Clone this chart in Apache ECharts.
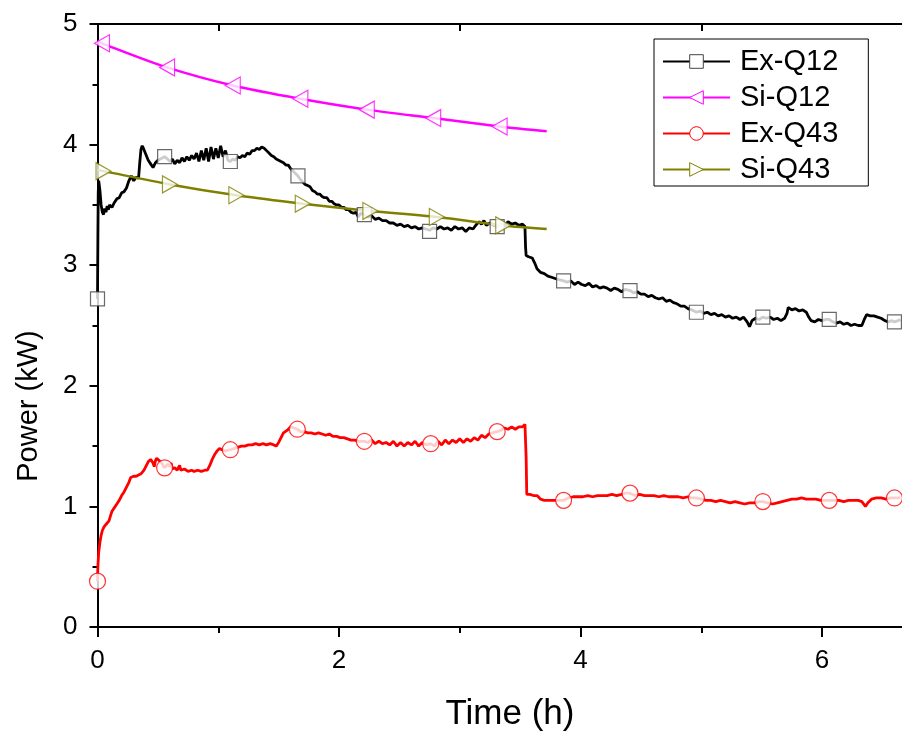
<!DOCTYPE html>
<html>
<head>
<meta charset="utf-8">
<script src="https://cdn.jsdelivr.net/npm/echarts@6/dist/echarts.min.js"></script>
<style>html,body{margin:0;padding:0;background:#fff;overflow:hidden}#c{width:902px;height:734px}</style>
</head>
<body>
<div id="c"></div>
<script>
// ---- data (time h, power kW) ----
const seriesNames = ['Ex-Q12', 'Si-Q12', 'Ex-Q43', 'Si-Q43'];
const xTickLabels = [0, 2, 4, 6];
const xMinorTicks = [1, 3, 5];
const yTickLabels = [0, 1, 2, 3, 4, 5];

const exQ12 = [[0,2.72],[0.003,3.2],[0.006,3.6],[0.01,3.70],[0.02,3.62],[0.03,3.50],[0.04,3.44],[0.05,3.42],[0.06,3.47],[0.07,3.44],[0.08,3.49],[0.09,3.46],[0.10,3.50],[0.12,3.48],[0.14,3.52],[0.16,3.55],[0.18,3.56],[0.20,3.60],[0.22,3.61],[0.24,3.64],[0.26,3.70],[0.28,3.74],[0.30,3.70],[0.32,3.73],[0.34,3.72],[0.35,3.85],[0.36,3.96],[0.37,3.99],[0.38,3.97],[0.40,3.92],[0.42,3.87],[0.44,3.84],[0.46,3.81],[0.48,3.85],[0.50,3.87],[0.52,3.88],[0.556,3.90],[0.58,3.88],[0.60,3.86],[0.62,3.88],[0.64,3.84],[0.66,3.87],[0.68,3.85],[0.70,3.89],[0.72,3.86],[0.74,3.90],[0.76,3.87],[0.78,3.91],[0.80,3.88],[0.82,3.93],[0.84,3.86],[0.86,3.95],[0.88,3.87],[0.90,3.97],[0.92,3.86],[0.94,3.98],[0.96,3.88],[0.98,3.97],[1.00,3.89],[1.02,3.99],[1.04,3.90],[1.06,3.95],[1.08,3.87],[1.10,3.86],[1.12,3.88],[1.14,3.87],[1.16,3.90],[1.18,3.89],[1.20,3.91],[1.22,3.90],[1.24,3.93],[1.26,3.92],[1.28,3.95],[1.30,3.95],[1.32,3.97],[1.34,3.96],[1.36,3.98],[1.38,3.97],[1.40,3.95],[1.42,3.93],[1.44,3.91],[1.46,3.90],[1.48,3.88],[1.50,3.87],[1.52,3.86],[1.54,3.85],[1.56,3.83],[1.58,3.83],[1.60,3.80],[1.62,3.78],[1.64,3.76],[1.66,3.74],[1.68,3.71],[1.70,3.69],[1.72,3.67],[1.74,3.66],[1.76,3.65],[1.78,3.62],[1.80,3.61],[1.82,3.59],[1.84,3.59],[1.86,3.57],[1.88,3.56],[1.90,3.56],[1.92,3.53],[1.94,3.53],[1.96,3.51],[1.98,3.50],[2.00,3.50],[2.02,3.48],[2.04,3.48],[2.06,3.46],[2.08,3.46],[2.10,3.44],[2.12,3.43],[2.14,3.44],[2.16,3.40],[2.18,3.43],[2.21,3.42],[2.24,3.40],[2.27,3.41],[2.30,3.38],[2.33,3.39],[2.36,3.37],[2.39,3.37],[2.42,3.35],[2.45,3.35],[2.48,3.33],[2.51,3.34],[2.54,3.32],[2.57,3.33],[2.60,3.31],[2.63,3.32],[2.66,3.30],[2.69,3.31],[2.72,3.30],[2.75,3.29],[2.78,3.31],[2.81,3.30],[2.84,3.32],[2.87,3.30],[2.90,3.31],[2.93,3.29],[2.96,3.32],[2.99,3.30],[3.02,3.31],[3.05,3.28],[3.08,3.31],[3.11,3.30],[3.14,3.34],[3.16,3.36],[3.18,3.34],[3.20,3.37],[3.22,3.33],[3.25,3.35],[3.28,3.33],[3.31,3.32],[3.34,3.34],[3.37,3.33],[3.40,3.36],[3.43,3.34],[3.46,3.35],[3.49,3.33],[3.52,3.34],[3.54,3.32],[3.545,3.15],[3.55,3.08],[3.57,3.07],[3.60,3.06],[3.62,3.02],[3.64,2.97],[3.67,2.94],[3.70,2.93],[3.73,2.91],[3.76,2.90],[3.79,2.89],[3.82,2.88],[3.86,2.87],[3.89,2.86],[3.92,2.87],[3.95,2.84],[3.98,2.86],[4.01,2.84],[4.04,2.83],[4.07,2.85],[4.10,2.82],[4.13,2.83],[4.16,2.81],[4.19,2.82],[4.22,2.81],[4.25,2.79],[4.28,2.81],[4.31,2.80],[4.34,2.78],[4.37,2.80],[4.41,2.79],[4.44,2.77],[4.47,2.78],[4.50,2.76],[4.53,2.76],[4.56,2.74],[4.59,2.75],[4.62,2.73],[4.65,2.72],[4.68,2.73],[4.71,2.70],[4.74,2.71],[4.77,2.69],[4.80,2.68],[4.83,2.66],[4.86,2.66],[4.89,2.64],[4.92,2.63],[4.96,2.61],[4.99,2.62],[5.02,2.60],[5.05,2.61],[5.08,2.59],[5.11,2.60],[5.14,2.58],[5.17,2.59],[5.20,2.57],[5.23,2.58],[5.26,2.56],[5.29,2.57],[5.32,2.55],[5.35,2.57],[5.38,2.53],[5.40,2.49],[5.42,2.54],[5.45,2.56],[5.48,2.55],[5.51,2.57],[5.54,2.56],[5.57,2.57],[5.60,2.55],[5.63,2.56],[5.66,2.54],[5.69,2.56],[5.71,2.60],[5.72,2.65],[5.75,2.63],[5.78,2.64],[5.81,2.62],[5.84,2.63],[5.87,2.61],[5.89,2.57],[5.91,2.54],[5.94,2.53],[5.97,2.55],[6.00,2.54],[6.03,2.55],[6.06,2.55],[6.09,2.53],[6.12,2.52],[6.15,2.53],[6.18,2.51],[6.21,2.52],[6.24,2.50],[6.27,2.51],[6.30,2.50],[6.33,2.50],[6.35,2.55],[6.37,2.59],[6.40,2.58],[6.43,2.58],[6.46,2.57],[6.49,2.56],[6.52,2.54],[6.55,2.53],[6.58,2.54],[6.60,2.53],[6.63,2.54],[6.65,2.55]];
const exQ12Markers = [[0,2.72],[0.556,3.90],[1.10,3.86],[1.66,3.74],[2.21,3.42],[2.75,3.28],[3.31,3.32],[3.86,2.87],[4.41,2.79],[4.96,2.61],[5.51,2.57],[6.06,2.55],[6.60,2.53]];

const siQ12 = [[0,4.86],[0.037,4.84],[0.576,4.64],[1.12,4.49],[1.68,4.38],[2.23,4.29],[2.78,4.22],[3.33,4.15],[3.72,4.11]];
const siQ12Markers = [[0.037,4.84],[0.576,4.64],[1.12,4.49],[1.68,4.38],[2.23,4.29],[2.78,4.22],[3.33,4.15]];

const exQ43 = [[0,0.38],[0.003,0.50],[0.01,0.62],[0.02,0.70],[0.03,0.76],[0.04,0.80],[0.054,0.83],[0.07,0.85],[0.095,0.88],[0.11,0.93],[0.12,0.96],[0.14,0.99],[0.16,1.02],[0.18,1.05],[0.20,1.09],[0.22,1.12],[0.24,1.16],[0.26,1.20],[0.275,1.24],[0.30,1.25],[0.32,1.25],[0.34,1.26],[0.36,1.27],[0.385,1.30],[0.40,1.33],[0.42,1.37],[0.44,1.39],[0.45,1.40],[0.46,1.36],[0.47,1.33],[0.48,1.38],[0.49,1.40],[0.51,1.38],[0.53,1.36],[0.556,1.32],[0.58,1.35],[0.60,1.33],[0.61,1.36],[0.62,1.31],[0.64,1.32],[0.66,1.30],[0.68,1.34],[0.69,1.30],[0.72,1.31],[0.75,1.29],[0.78,1.30],[0.80,1.29],[0.83,1.30],[0.86,1.29],[0.89,1.30],[0.91,1.30],[0.93,1.34],[0.95,1.39],[0.97,1.43],[0.99,1.46],[1.01,1.48],[1.03,1.47],[1.06,1.46],[1.10,1.47],[1.13,1.48],[1.16,1.49],[1.19,1.50],[1.22,1.50],[1.25,1.51],[1.28,1.51],[1.31,1.52],[1.34,1.51],[1.37,1.52],[1.40,1.51],[1.43,1.52],[1.46,1.51],[1.48,1.50],[1.50,1.53],[1.52,1.57],[1.54,1.61],[1.57,1.63],[1.60,1.66],[1.655,1.64],[1.68,1.62],[1.71,1.62],[1.74,1.61],[1.77,1.61],[1.80,1.60],[1.83,1.61],[1.86,1.60],[1.89,1.59],[1.92,1.60],[1.95,1.58],[1.98,1.58],[2.01,1.57],[2.04,1.57],[2.07,1.56],[2.10,1.55],[2.13,1.55],[2.16,1.54],[2.21,1.54],[2.24,1.53],[2.27,1.55],[2.30,1.52],[2.33,1.54],[2.36,1.52],[2.39,1.53],[2.42,1.51],[2.45,1.54],[2.48,1.50],[2.51,1.53],[2.54,1.50],[2.57,1.53],[2.60,1.51],[2.63,1.54],[2.66,1.50],[2.69,1.53],[2.72,1.51],[2.76,1.52],[2.79,1.50],[2.82,1.54],[2.85,1.51],[2.88,1.55],[2.91,1.52],[2.94,1.55],[2.97,1.53],[3.00,1.56],[3.03,1.53],[3.06,1.56],[3.09,1.54],[3.12,1.57],[3.15,1.55],[3.18,1.59],[3.21,1.57],[3.24,1.60],[3.27,1.61],[3.31,1.62],[3.34,1.63],[3.37,1.65],[3.40,1.64],[3.43,1.66],[3.46,1.64],[3.49,1.66],[3.52,1.66],[3.54,1.68],[3.55,1.40],[3.555,1.10],[3.58,1.10],[3.61,1.09],[3.64,1.09],[3.67,1.06],[3.70,1.05],[3.74,1.05],[3.78,1.05],[3.82,1.05],[3.86,1.05],[3.90,1.07],[3.94,1.08],[3.98,1.08],[4.02,1.08],[4.06,1.09],[4.10,1.08],[4.14,1.09],[4.18,1.09],[4.22,1.09],[4.26,1.10],[4.30,1.09],[4.34,1.10],[4.37,1.11],[4.41,1.11],[4.45,1.09],[4.49,1.10],[4.53,1.09],[4.57,1.09],[4.61,1.09],[4.65,1.08],[4.69,1.09],[4.73,1.08],[4.77,1.08],[4.81,1.08],[4.85,1.07],[4.89,1.08],[4.92,1.07],[4.96,1.07],[5.00,1.06],[5.04,1.05],[5.08,1.05],[5.12,1.04],[5.16,1.05],[5.20,1.04],[5.24,1.03],[5.28,1.04],[5.32,1.03],[5.36,1.02],[5.40,1.03],[5.44,1.03],[5.48,1.04],[5.51,1.04],[5.55,1.03],[5.59,1.02],[5.63,1.03],[5.67,1.04],[5.71,1.05],[5.75,1.06],[5.79,1.06],[5.83,1.07],[5.87,1.06],[5.91,1.06],[5.95,1.06],[5.99,1.05],[6.03,1.05],[6.06,1.05],[6.10,1.05],[6.14,1.05],[6.18,1.04],[6.22,1.05],[6.26,1.05],[6.30,1.05],[6.33,1.04],[6.36,1.00],[6.38,1.03],[6.41,1.06],[6.45,1.07],[6.49,1.07],[6.53,1.06],[6.57,1.07],[6.60,1.07],[6.65,1.07]];
const exQ43Markers = [[0,0.38],[0.556,1.32],[1.10,1.47],[1.655,1.64],[2.21,1.54],[2.76,1.52],[3.31,1.62],[3.86,1.05],[4.41,1.11],[4.96,1.07],[5.51,1.04],[6.06,1.05],[6.60,1.07]];

const siQ43 = [[0,3.79],[0.05,3.78],[0.60,3.67],[1.15,3.58],[1.70,3.51],[2.26,3.45],[2.81,3.40],[3.36,3.33],[3.72,3.30]];
const siQ43Markers = [[0.05,3.78],[0.60,3.67],[1.15,3.58],[1.70,3.51],[2.26,3.45],[2.81,3.40],[3.36,3.33]];

// ---- styles ----
const FONT = "'Liberation Sans', Arial, sans-serif";
const colors = ['#000000', '#FF00FF', '#FF0000', '#808000'];
const markerBorder = ['#444444', '#FF00FF', '#FF0000', '#808000'];
const symbols = ['rect', 'triangle', 'circle', 'triangle'];
const rotations = [0, 90, 0, -90];
const sizes = [14, [17, 15], 16, [17, 15]];
const widths = [2.8, 2.5, 2.8, 2.5];
const lines = [exQ12, siQ12, exQ43, siQ43];
const markers = [exQ12Markers, siQ12Markers, exQ43Markers, siQ43Markers];
const smooth = [false, 0.3, false, 0.3];

const series = [];
seriesNames.forEach((name, i) => {
  series.push({
    name: name, type: 'line', data: lines[i], showSymbol: false,
    symbol: symbols[i], symbolRotate: rotations[i], smooth: smooth[i],
    lineStyle: { color: colors[i], width: widths[i] },
    itemStyle: { color: '#fff', borderColor: markerBorder[i], borderWidth: 1 },
    emphasis: { disabled: true }, animation: false, z: 2
  });
});
seriesNames.forEach((name, i) => {
  series.push({
    name: name + ' markers', type: 'scatter', data: markers[i],
    symbol: symbols[i], symbolRotate: rotations[i], symbolSize: sizes[i],
    itemStyle: { color: '#fff', borderColor: markerBorder[i], borderWidth: 1.2 },
    emphasis: { disabled: true }, animation: false, z: 3
  });
});

const chart = echarts.init(document.getElementById('c'), null, { renderer: 'canvas' });
chart.setOption({
  backgroundColor: '#fff',
  animation: false,
  grid: { left: 97.5, top: 24, width: 845.25, height: 603, containLabel: false, outerBoundsMode: 'none' },
  legend: {
    data: seriesNames, orient: 'vertical', left: 654, top: 39,
    padding: [8, 30, 2, 8], itemGap: 7, itemWidth: 67, itemHeight: 17,
    borderColor: '#000', borderWidth: 1, borderRadius: 0,
    itemStyle: { borderWidth: 1 },
    textStyle: { fontSize: 29, fontFamily: FONT, color: '#000', padding: [0, 0, 0, 5] },
    selectedMode: false
  },
  xAxis: [
    {
      type: 'value', min: 0, max: 7, position: 'bottom',
      axisLine: { show: true, onZero: false, lineStyle: { color: '#000', width: 2 } },
      axisTick: { show: true, length: 10, lineStyle: { color: '#000', width: 2 }, customValues: xTickLabels },
      axisLabel: { show: true, fontSize: 26, fontFamily: FONT, color: '#000', margin: 21, customValues: xTickLabels },
      splitLine: { show: false }
    },
    {
      type: 'value', min: 0, max: 7, position: 'bottom',
      axisLine: { show: false },
      axisTick: { show: true, length: 6, lineStyle: { color: '#000', width: 2 }, customValues: xMinorTicks },
      axisLabel: { show: false },
      splitLine: { show: false }
    },
    {
      type: 'value', min: 0, max: 7, position: 'top',
      axisLine: { show: true, onZero: false, lineStyle: { color: '#000', width: 2 } },
      axisTick: { show: true, inside: true, length: 7, lineStyle: { color: '#000', width: 2 }, customValues: xMinorTicks },
      axisLabel: { show: false },
      splitLine: { show: false }
    }
  ],
  yAxis: {
    type: 'value', min: 0, max: 5, interval: 1,
    axisLine: { show: true, onZero: false, lineStyle: { color: '#000', width: 2 } },
    axisTick: { show: true, length: 8, lineStyle: { color: '#000', width: 2 } },
    minorTick: { show: true, splitNumber: 2, length: 5, lineStyle: { color: '#000', width: 2 } },
    axisLabel: { fontSize: 26, fontFamily: FONT, color: '#000', margin: 20,
      customValues: yTickLabels },
    splitLine: { show: false }
  },
  graphic: [
    { type: 'text', x: 510, y: 714, style: { text: 'Time (h)', font: '35px ' + FONT, fill: '#000', textAlign: 'center', textVerticalAlign: 'middle' } },
    { type: 'text', x: 29, y: 406, rotation: Math.PI / 2, style: { text: 'Power (kW)', font: '29px ' + FONT, fill: '#000', textAlign: 'center', textVerticalAlign: 'middle' } }
  ],
  series: series
});
</script>
</body>
</html>
